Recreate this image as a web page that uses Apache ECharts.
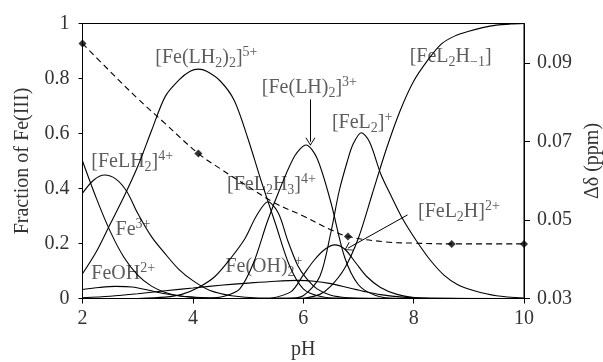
<!DOCTYPE html>
<html>
<head>
<meta charset="utf-8">
<script src="https://cdn.jsdelivr.net/npm/echarts@6/dist/echarts.min.js"></script>
<style>
  html, body { margin: 0; padding: 0; background: #fff; }
  #speciesChart { width: 603px; height: 362px; }
</style>
</head>
<body>
<div id="speciesChart"></div>
<script>
// fraction of Fe(III) for each species
const fe3PH = [2, 2.25, 2.5, 2.75, 3, 3.25, 3.5, 3.75, 4, 4.5, 10];
const fe3 = [0.50, 0.365, 0.245, 0.15, 0.085, 0.045, 0.022, 0.01, 0.004, 0, 0];

const feOHPH = [2, 2.3, 2.6, 2.9, 3.2, 3.5, 3.8, 4.2, 4.6, 10];
const feOH = [0.033, 0.04, 0.044, 0.042, 0.03, 0.017, 0.008, 0.003, 0, 0];

const feOH2PH = [2, 2.5, 3, 3.5, 4, 4.5, 5, 5.5, 5.9, 6.2, 6.5, 6.8, 7.1, 7.4, 7.8, 8.3, 10];
const feOH2 = [0.003, 0.008, 0.017, 0.028, 0.038, 0.048, 0.056, 0.063, 0.066, 0.063, 0.054, 0.04, 0.026, 0.014, 0.005, 0.001, 0];

const feLH2PH = [2, 2.2, 2.4, 2.6, 2.8, 3.0, 3.25, 3.5, 3.75, 4.0, 4.3, 4.7, 5.2, 10];
const feLH2 = [0.383, 0.43, 0.449, 0.435, 0.39, 0.31, 0.225, 0.162, 0.105, 0.065, 0.03, 0.01, 0.002, 0];

const feLH2x2PH = [2, 2.25, 2.5, 2.75, 3, 3.25, 3.5, 3.75, 3.95, 4.1, 4.25, 4.5, 4.75, 5, 5.25, 5.5, 5.75, 6, 6.3, 6.7, 10];
const feLH2x2 = [0.09, 0.17, 0.27, 0.37, 0.48, 0.61, 0.735, 0.795, 0.826, 0.834, 0.826, 0.79, 0.72, 0.58, 0.42, 0.27, 0.12, 0.035, 0.008, 0, 0];

const feL2H3PH = [3.0, 3.5, 3.8, 4.1, 4.4, 4.7, 4.95, 5.15, 5.36, 5.55, 5.72, 5.9, 6.05, 6.25, 6.5, 6.8, 7.2, 10];
const feL2H3 = [0, 0.005, 0.015, 0.04, 0.08, 0.15, 0.22, 0.30, 0.352, 0.31, 0.21, 0.12, 0.075, 0.035, 0.012, 0.003, 0, 0];

const feLHx2PH = [4.3, 4.6, 4.85, 5.1, 5.35, 5.6, 5.85, 6.05, 6.25, 6.5, 6.75, 7.0, 7.3, 7.7, 10];
const feLHx2 = [0, 0.01, 0.035, 0.13, 0.28, 0.41, 0.52, 0.558, 0.51, 0.35, 0.15, 0.05, 0.012, 0, 0];

const feL2HPH = [5.4, 5.78, 6.0, 6.2, 6.4, 6.57, 6.75, 6.95, 7.15, 7.4, 7.7, 8.1, 10];
const feL2H = [0, 0.025, 0.085, 0.14, 0.18, 0.195, 0.18, 0.13, 0.08, 0.04, 0.015, 0.002, 0];

const feL2PH = [5.7, 6.0, 6.3, 6.5, 6.65, 6.8, 6.9, 7.05, 7.2, 7.41, 7.6, 7.8, 8.05, 8.3, 8.55, 8.8, 9.1, 9.5, 10];
const feL2 = [0, 0.01, 0.08, 0.24, 0.39, 0.50, 0.56, 0.603, 0.57, 0.45, 0.37, 0.29, 0.21, 0.14, 0.085, 0.05, 0.028, 0.01, 0.002];

const feL2Hm1PH = [6.0, 6.3, 6.5, 6.75, 7.0, 7.25, 7.5, 7.75, 8.0, 8.25, 8.5, 8.75, 9.0, 9.25, 9.5, 9.75, 10];
const feL2Hm1 = [0, 0.015, 0.045, 0.11, 0.22, 0.38, 0.54, 0.68, 0.79, 0.865, 0.925, 0.955, 0.972, 0.985, 0.994, 0.998, 1.0];

// chemical shift (right axis): fitted dashed curve and measured points
const shiftPH = [2, 2.5, 3, 3.5, 4.1, 4.5, 5, 5.5, 6, 6.5, 6.81, 7.5, 8, 8.69, 10];
const shiftFit = [0.0949, 0.0878, 0.0809, 0.0745, 0.0669, 0.0630, 0.0585, 0.0542, 0.0510, 0.0475, 0.0458, 0.0444, 0.0441, 0.0439, 0.0439];
const pointPH = [2, 4.1, 6.81, 8.69, 10];
const pointShift = [0.0949, 0.0669, 0.0458, 0.0439, 0.0439];

// annotations
const labelText = ['[Fe(LH{s|2}){s|2}]{p|5+}', '[Fe(LH){s|2}]{p|3+}', '[FeL{s|2}]{p|+}', '[FeL{s|2}H{s|−1}]',
  '[FeLH{s|2}]{p|4+}', '[FeL{s|2}H{s|3}]{p|4+}', 'Fe{p|3+}', 'FeOH{p|2+}', 'Fe(OH){s|2}{p|+}', '[FeL{s|2}H]{p|2+}'];
const labelPH = [3.31, 5.24, 6.51, 7.92, 2.15, 4.61, 2.59, 2.15, 4.58, 8.07];
const labelFrac = [0.875, 0.767, 0.638, 0.878, 0.497, 0.413, 0.249, 0.089, 0.115, 0.316];
const arrowFrom = [[6.13, 0.724], [7.89, 0.304]];
const arrowTo = [[6.13, 0.570], [6.81, 0.183]];

const rightTicks = [0.03, 0.05, 0.07, 0.09];

const FONT = 'Liberation Serif';
const TXT = '#333';

let chart;

function curve(xs, ys) {
  return {
    type: 'line',
    yAxisIndex: 0,
    smooth: 0.3,
    showSymbol: false,
    silent: true,
    lineStyle: { color: '#000', width: 1.1 },
    data: xs.map(function (x, i) { return [x, ys[i]]; })
  };
}

function initChart() {
  const series = [
    curve(fe3PH, fe3),
    curve(feOHPH, feOH),
    curve(feOH2PH, feOH2),
    curve(feLH2PH, feLH2),
    curve(feLH2x2PH, feLH2x2),
    curve(feL2H3PH, feL2H3),
    curve(feLHx2PH, feLHx2),
    curve(feL2HPH, feL2H),
    curve(feL2PH, feL2),
    curve(feL2Hm1PH, feL2Hm1)
  ];

  series.push({
    type: 'line',
    yAxisIndex: 1,
    smooth: 0.4,
    showSymbol: false,
    silent: true,
    lineStyle: { color: '#000', width: 1.1, type: [6, 4] },
    data: shiftPH.map(function (p, i) { return [p, shiftFit[i]]; })
  });

  series.push({
    type: 'scatter',
    yAxisIndex: 1,
    symbol: 'diamond',
    symbolSize: 8,
    silent: true,
    itemStyle: { color: '#000' },
    data: pointPH.map(function (p, i) { return [p, pointShift[i]]; })
  });

  series.push({
    type: 'scatter',
    yAxisIndex: 0,
    symbolSize: 1,
    silent: true,
    itemStyle: { color: 'rgba(0,0,0,0)' },
    label: {
      show: true,
      position: 'right',
      distance: 0,
      formatter: function (p) { return labelText[p.dataIndex]; },
      fontFamily: FONT,
      fontSize: 20,
      lineHeight: 25,
      color: TXT,
      rich: {
        s: { fontFamily: FONT, fontSize: 14, lineHeight: 13, verticalAlign: 'bottom', color: TXT },
        p: { fontFamily: FONT, fontSize: 14, lineHeight: 17, verticalAlign: 'top', color: TXT }
      }
    },
    data: labelPH.map(function (p, i) { return [p, labelFrac[i]]; }),
    markLine: {
      silent: true,
      symbol: ['none', 'path://M0,10 L5,0 L10,10 L9,10 L5,2 L1,10 Z'],
      symbolSize: [10, 8],
      label: { show: false },
      lineStyle: { color: '#000', width: 1, type: 'solid' },
      data: arrowFrom.map(function (a, i) {
        return [{ coord: a }, { coord: arrowTo[i] }];
      })
    }
  });

  const option = {
    animation: false,
    grid: {
      left: 82.5, right: 79, top: 23.5, bottom: 63.5,
      outerBoundsMode: 'none',
      show: true, borderColor: '#000', borderWidth: 1
    },
    xAxis: {
      type: 'value',
      min: 2, max: 10, interval: 2,
      name: 'pH',
      nameLocation: 'middle',
      nameGap: 41,
      nameTextStyle: { fontFamily: FONT, fontSize: 20, color: TXT },
      axisLine: { lineStyle: { color: '#000', width: 1.2 } },
      axisTick: { show: true, inside: false, length: 5, lineStyle: { color: '#000' } },
      axisLabel: { fontFamily: FONT, fontSize: 20, color: TXT, margin: 10 },
      splitLine: { show: false }
    },
    yAxis: [
      {
        type: 'value',
        min: 0, max: 1, interval: 0.2,
        name: 'Fraction of Fe(III)',
        nameLocation: 'middle',
        nameGap: 50,
        nameRotate: 90,
        nameTextStyle: { fontFamily: FONT, fontSize: 20, color: TXT },
        axisLine: { show: true, lineStyle: { color: '#000' } },
        axisTick: { show: true, length: 4, lineStyle: { color: '#000' } },
        axisLabel: { fontFamily: FONT, fontSize: 20, color: TXT, margin: 13 },
        splitLine: { show: false }
      },
      {
        type: 'value',
        position: 'right',
        min: 0.03, max: 0.1,
        name: 'Δδ (ppm)',
        nameLocation: 'middle',
        nameGap: 56,
        nameRotate: 90,
        nameTextStyle: { fontFamily: FONT, fontSize: 20, color: TXT },
        axisLine: { show: true, lineStyle: { color: '#000' } },
        axisTick: { show: true, length: 6, customValues: rightTicks, lineStyle: { color: '#000' } },
        axisLabel: {
          fontFamily: FONT, fontSize: 20, color: TXT, margin: 13,
          customValues: rightTicks,
          formatter: function (v) { return v.toFixed(2); }
        },
        splitLine: { show: false }
      }
    ],
    series: series
  };
  chart.setOption(option);
}

chart = echarts.init(document.getElementById('speciesChart'));
initChart();
</script>
</body>
</html>
